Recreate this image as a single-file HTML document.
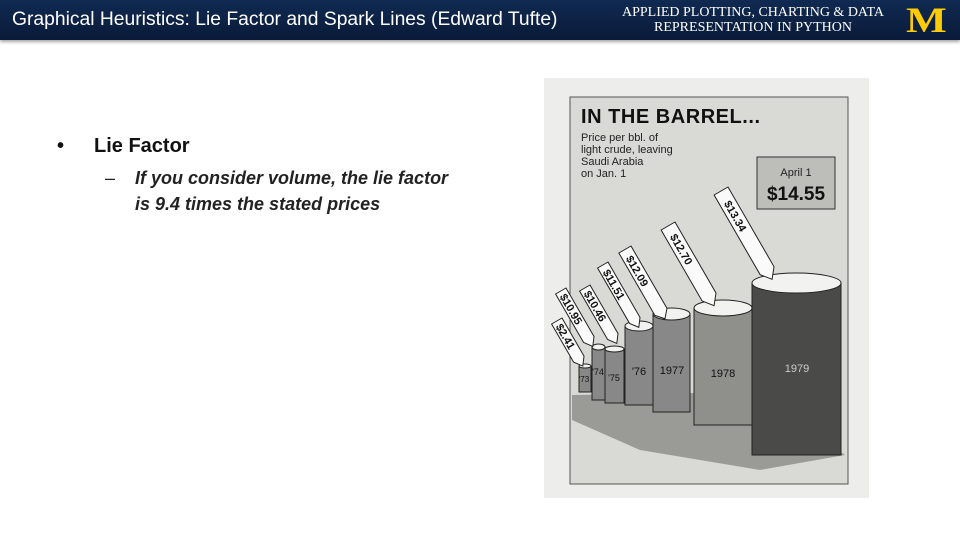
<!DOCTYPE html>
<html><head><meta charset="utf-8"><style>
body{margin:0;width:960px;height:540px;background:#fff;position:relative;overflow:hidden;font-family:"Liberation Sans",sans-serif}
.hdr{position:absolute;left:0;top:0;width:960px;height:40px;background:linear-gradient(#102a52,#0a1a38);box-shadow:0 2px 3px rgba(0,0,0,.35)}
.t{position:absolute;left:12px;top:9px;color:#fff;font-size:19.3px;white-space:nowrap}
.r{position:absolute;left:600px;top:5px;width:306px;text-align:center;color:#fff;font-family:"Liberation Serif",serif;font-size:14px;line-height:15px}
.m{position:absolute;left:906px;top:3px;color:#ffcb05;font-family:"Liberation Serif",serif;font-weight:bold;font-size:36px;line-height:34px;transform:scaleX(1.2);transform-origin:left}
.b1{position:absolute;left:57px;top:135px;font-size:20px;font-weight:bold;color:#111}
.b1 span{position:absolute;left:37px;top:0;white-space:nowrap}
.b2{position:absolute;left:135px;top:165px;font-size:18px;font-style:italic;font-weight:bold;color:#222;line-height:26px;white-space:nowrap}
.b2 .d{position:absolute;left:-30px;font-style:normal;font-weight:normal}
</style></head><body>
<div class="hdr"><div class="t">Graphical Heuristics: Lie Factor and Spark Lines (Edward Tufte)</div>
<div class="r">APPLIED PLOTTING, CHARTING &amp; DATA<br>REPRESENTATION IN PYTHON</div>
<div class="m">M</div></div>
<div class="b1">•<span>Lie Factor</span></div>
<div class="b2"><span class="d">–</span>If you consider volume, the lie factor<br>is 9.4 times the stated prices</div>
<svg style="position:absolute;left:0;top:0" width="960" height="540">
<rect x="544" y="78" width="325" height="420" fill="#ededeb"/>
<rect x="570" y="97" width="278" height="387" fill="#d9d9d6" stroke="#555" stroke-width="1"/>
<path d="M572 395 L760 392 L845 455 L760 470 L640 450 L572 420Z" fill="#9a9a97"/>
<text x="581" y="123" font-size="20" font-weight="bold" fill="#111" textLength="179">IN THE BARREL...</text>
<g font-size="11" fill="#222"><text x="581" y="141">Price per bbl. of</text><text x="581" y="153">light crude, leaving</text><text x="581" y="165">Saudi Arabia</text><text x="581" y="177">on Jan. 1</text></g>
<rect x="757" y="157" width="78" height="52" fill="#bdbdba" stroke="#333"/>
<text x="796" y="176" font-size="11" text-anchor="middle" fill="#222">April 1</text>
<text x="796" y="200" font-size="19" font-weight="bold" text-anchor="middle" fill="#111">$14.55</text>
<g stroke="#222" stroke-width="1">
<g fill="#888"><rect x="579" y="366" width="12" height="26"/><rect x="592" y="347" width="13" height="53"/><rect x="605" y="349" width="19" height="54"/><rect x="625" y="326" width="28" height="79"/><rect x="653" y="314" width="37" height="98"/></g>
<rect x="694" y="308" width="58" height="117" fill="#8f8f8c"/>
<rect x="752" y="283" width="89" height="172" fill="#4a4a48"/>
<g fill="#f2f2f0"><ellipse cx="585" cy="366" rx="6" ry="2"/><ellipse cx="598.5" cy="347" rx="6.5" ry="3"/><ellipse cx="614.5" cy="349" rx="9.5" ry="3"/><ellipse cx="639" cy="326" rx="14" ry="5"/><ellipse cx="671.5" cy="314" rx="18.5" ry="6"/><ellipse cx="723" cy="308" rx="29" ry="8"/><ellipse cx="796.5" cy="283" rx="44.5" ry="10"/></g>
</g>
<g font-size="11" fill="#111" text-anchor="middle"><text x="584" y="382" font-size="8">'73</text><text x="598" y="375" font-size="9">'74</text><text x="614" y="381" font-size="9">'75</text><text x="639" y="375">'76</text><text x="672" y="374">1977</text><text x="723" y="377">1978</text><text x="797" y="372" fill="#ccc">1979</text></g>
<g fill="#fafafa" stroke="#222" stroke-width="1" font-size="11" font-weight="bold">
<g transform="translate(562,318) rotate(60)"><path d="M0 0 H44 L52 6 L44 12 H0Z"/><text x="4" y="10" fill="#111" stroke="none">$2.41</text></g>
<g transform="translate(566,288) rotate(60)"><path d="M0 0 H56 L64 6 L56 12 H0Z"/><text x="4" y="10" fill="#111" stroke="none">$10.95</text></g>
<g transform="translate(590,285) rotate(60)"><path d="M0 0 H56 L64 6 L56 12 H0Z"/><text x="4" y="10" fill="#111" stroke="none">$10.46</text></g>
<g transform="translate(608,262) rotate(60)"><path d="M0 0 H64 L72 6 L64 12 H0Z"/><text x="6" y="10" fill="#111" stroke="none">$11.51</text></g>
<g transform="translate(631,246) rotate(60)"><path d="M0 0 H72 L80 7 L72 14 H0Z"/><text x="8" y="11" fill="#111" stroke="none">$12.09</text></g>
<g transform="translate(675,222) rotate(60)"><path d="M0 0 H82 L92 8 L82 16 H0Z"/><text x="10" y="12" fill="#111" stroke="none">$12.70</text></g>
<g transform="translate(728,187) rotate(60)"><path d="M0 0 H92 L102 8 L92 16 H0Z"/><text x="12" y="12" fill="#111" stroke="none">$13.34</text></g>
</g>
</svg>
</body></html>
